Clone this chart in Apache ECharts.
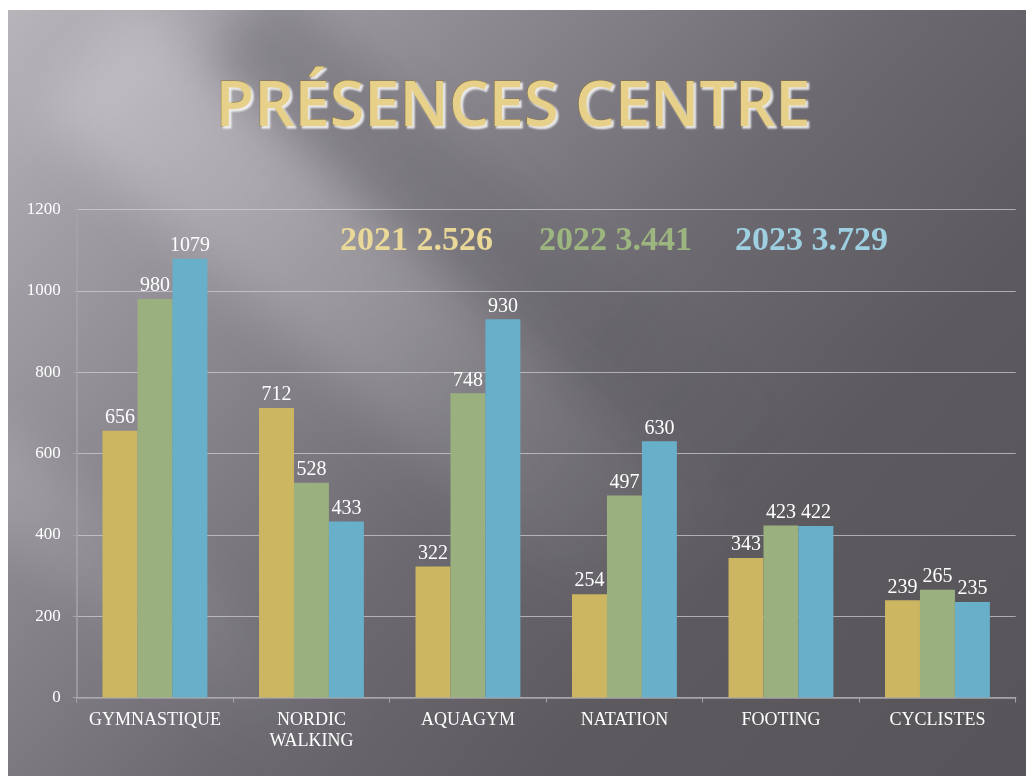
<!DOCTYPE html>
<html>
<head>
<meta charset="utf-8">
<script src="https://cdn.jsdelivr.net/npm/echarts@6/dist/echarts.min.js"></script>
<style>
  html, body { margin: 0; padding: 0; background: #fff; }
  #wrap { position: relative; width: 1026px; height: 776px; background: #fff; }
  #slide {
    position: absolute; left: 8px; top: 10px; width: 1018px; height: 766px; overflow: hidden;
    background: linear-gradient(132deg, #b7b4ba 0%, #a19ea5 14%, #8a878e 30%, #6c6a70 52%, #5c5a5f 72%, #57555a 100%);
  }
  .streak { position: absolute; transform-origin: 0 50%; }
  #s1 {
    left: 80px; top: -30px; width: 860px; height: 150px;
    transform: rotate(42deg);
    background: linear-gradient(90deg, rgba(255,255,255,0.26) 0%, rgba(255,255,255,0.17) 45%, rgba(255,255,255,0) 92%);
    filter: blur(26px);
  }
  #s2 {
    left: 230px; top: -40px; width: 700px; height: 110px;
    transform: rotate(40deg);
    background: linear-gradient(90deg, rgba(40,38,45,0.2) 0%, rgba(40,38,45,0.08) 60%, rgba(40,38,45,0) 100%);
    filter: blur(22px);
  }
  #s3 {
    left: -40px; top: 400px; width: 480px; height: 90px;
    transform: rotate(38deg);
    background: linear-gradient(90deg, rgba(255,255,255,0.13) 0%, rgba(255,255,255,0.06) 60%, rgba(255,255,255,0) 100%);
    filter: blur(20px);
  }
  #chart { position: absolute; left: 0; top: 0; width: 1026px; height: 776px; }
</style>
</head>
<body>
<div id="wrap">
  <div id="slide">
    <div class="streak" id="s2"></div>
    <div class="streak" id="s1"></div>
    <div class="streak" id="s3"></div>
  </div>
  <div id="chart"></div>
</div>
<script>
const categories = ['GYMNASTIQUE', 'NORDIC\nWALKING', 'AQUAGYM', 'NATATION', 'FOOTING', 'CYCLISTES'];
const years = ['2021', '2022', '2023'];
const values2021 = [656, 712, 322, 254, 343, 239];
const values2022 = [980, 528, 748, 497, 423, 265];
const values2023 = [1079, 433, 930, 630, 422, 235];
const yearTotals = ['2.526', '3.441', '3.729'];

const barColors = ['#cdb662', '#9bb07f', '#68afca'];
const totalColors = ['#e9d898', '#9db57f', '#9ed0e2'];
const serif = '"Liberation Serif", "DejaVu Serif", serif';

const chart = echarts.init(document.getElementById('chart'));

const makeSeries = (name, data, i) => ({
  name,
  type: 'bar',
  data,
  barGap: '0%',
  barCategoryGap: '33%',
  itemStyle: { color: barColors[i] },
  label: {
    show: true,
    position: 'top',
    color: '#fff',
    fontFamily: serif,
    fontSize: 20,
    distance: 3,
  },
});

let option = {
  backgroundColor: 'transparent',
  title: {
    text: 'PRÉSENCES CENTRE',
    left: 'center',
    top: 72,
    textStyle: {
      fontFamily: '"Open Sans", "Noto Sans", sans-serif',
      fontWeight: 600,
      fontSize: 63,
      color: '#e6d08a',
      textBorderColor: '#8a7440',
      textBorderWidth: 1,
      textShadowColor: 'rgba(255,255,255,0.85)',
      textShadowBlur: 2,
      textShadowOffsetX: 2,
      textShadowOffsetY: 2,
    },
  },
  graphic: years.map((y, i) => ({
    type: 'text',
    left: [340, 539, 735][i],
    top: 224,
    style: {
      text: y + ' ' + yearTotals[i],
      font: 'bold 34px ' + serif,
      fill: totalColors[i],
    },
  })),
  grid: { left: 76.7, right: 10.3, top: 209.5, bottom: 78.5 },
  xAxis: {
    type: 'category',
    data: categories,
    axisLine: { lineStyle: { color: '#a6a4aa', width: 1.5 } },
    axisTick: { show: true, length: 5, lineStyle: { color: '#a6a4aa' } },
    axisLabel: {
      interval: 0,
      color: '#fff',
      fontFamily: serif,
      fontSize: 18,
      margin: 12,
      lineHeight: 21,
    },
  },
  yAxis: {
    type: 'value',
    min: 0,
    max: 1200,
    interval: 200,
    axisLine: { show: true, lineStyle: { color: '#a6a4aa', width: 1.5 } },
    axisTick: { show: true, length: 4, lineStyle: { color: '#a6a4aa' } },
    splitLine: { lineStyle: { color: 'rgba(210,210,215,0.7)', width: 1 } },
    axisLabel: {
      color: '#fff',
      fontFamily: serif,
      fontSize: 17,
      margin: 16,
      formatter: (v) => String(v),
    },
  },
  series: [
    makeSeries(years[0], values2021, 0),
    makeSeries(years[1], values2022, 1),
    makeSeries(years[2], values2023, 2),
  ],
};

option && chart.setOption(option);
</script>
</body>
</html>
